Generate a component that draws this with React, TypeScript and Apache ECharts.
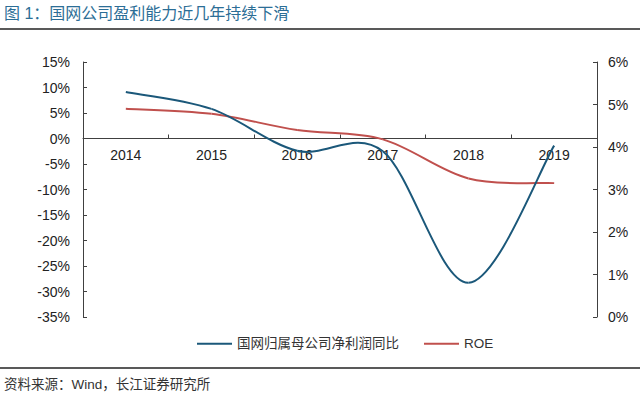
import React, { useEffect, useRef } from "react";
import * as echarts from "echarts";

const years = ["2014", "2015", "2016", "2017", "2018", "2019"];
const profitYoY = [9.1, 5.8, -2.4, -2.5, -28.3, -1.4];
const roe = [4.9, 4.78, 4.4, 4.18, 3.26, 3.15];
const leftTicks = { min: -35, max: 15, interval: 5 };
const rightTicks = { min: 0, max: 6, interval: 1 };
const titleText = "图 1：国网公司盈利能力近几年持续下滑";
const sourceText = "资料来源：Wind，长江证券研究所";
const seriesNames = ["国网归属母公司净利润同比", "ROE"];

const FONT = "'Liberation Sans', Arial, 'Noto Sans CJK SC', sans-serif";
const GRID = { left: 83, right: 43, top: 62, bottom: 81 };
const CHART_H = 398;

// Excel-like smoothed segment (Catmull-Rom converted to cubic Bezier) between data points
function makeRenderItem(values: number[], color: string) {
  return (params: any, api: any) => {
    const i = params.dataIndex;
    const n = values.length;
    if (i >= n - 1) return { type: "group", children: [] };
    const pt = (k: number) => {
      const kk = Math.max(0, Math.min(n - 1, k));
      return api.coord([kk, values[kk]]);
    };
    const p0 = pt(i - 1);
    const p1 = pt(i);
    const p2 = pt(i + 1);
    const p3 = pt(i + 2);
    return {
      type: "bezierCurve",
      shape: {
        x1: p1[0],
        y1: p1[1],
        cpx1: p1[0] + (p2[0] - p0[0]) / 6,
        cpy1: p1[1] + (p2[1] - p0[1]) / 6,
        cpx2: p2[0] - (p3[0] - p1[0]) / 6,
        cpy2: p2[1] - (p3[1] - p1[1]) / 6,
        x2: p2[0],
        y2: p2[1],
      },
      style: { stroke: color, lineWidth: 2, fill: "none" },
      silent: true,
    };
  };
}

export default function App() {
  const ref = useRef<HTMLDivElement>(null);
  useEffect(() => {
    if (!ref.current) return;
    const chart = echarts.init(ref.current, null, { renderer: "svg" });
    const axisLine = { show: true, lineStyle: { color: "#404040", width: 1 } };
    const axisTick = { show: true, inside: true, length: 4, lineStyle: { color: "#404040" } };
    const blue = "#1b587a";
    const red = "#c0504d";
    // place the category axis at the left axis' zero value
    const gridH = CHART_H - GRID.top - GRID.bottom;
    const zeroOffset = -gridH * (0 - leftTicks.min) / (leftTicks.max - leftTicks.min);
    chart.setOption({
      animation: false,
      backgroundColor: "#ffffff",
      textStyle: { fontFamily: FONT },
      grid: { ...GRID, containLabel: false },
      legend: {
        top: 332,
        left: 192,
        itemWidth: 35,
        itemHeight: 10,
        itemGap: 25,
        icon: "path://M0,4 L35,4 L35,6 L0,6 Z",
        textStyle: { fontSize: 13.5, color: "#333", fontFamily: FONT, padding: [0, 0, 0, 0] },
        data: seriesNames,
      },
      xAxis: {
        type: "category",
        data: years,
        boundaryGap: true,
        position: "bottom",
        offset: zeroOffset,
        axisLine: { ...axisLine, onZero: false },
        axisTick,
        axisLabel: { fontSize: 14, color: "#222", margin: 9 },
        splitLine: { show: false },
      },
      yAxis: [
        {
          type: "value",
          ...leftTicks,
          position: "left",
          axisLine,
          axisTick,
          axisLabel: { fontSize: 14, color: "#222", margin: 13, formatter: "{value}%" },
          splitLine: { show: false },
        },
        {
          type: "value",
          ...rightTicks,
          position: "right",
          axisLine,
          axisTick,
          axisLabel: { fontSize: 14, color: "#222", margin: 11, formatter: "{value}%" },
          splitLine: { show: false },
        },
      ],
      series: [
        {
          name: seriesNames[0],
          type: "custom",
          yAxisIndex: 0,
          data: profitYoY.map((v, i) => [i, v]),
          encode: { x: 0, y: 1 },
          renderItem: makeRenderItem(profitYoY, blue),
          itemStyle: { color: blue },
          z: 3,
        },
        {
          name: seriesNames[1],
          type: "custom",
          yAxisIndex: 1,
          data: roe.map((v, i) => [i, v]),
          encode: { x: 0, y: 1 },
          renderItem: makeRenderItem(roe, red),
          itemStyle: { color: red },
          z: 2,
        },
      ],
      graphic: [
        {
          type: "text",
          left: 4,
          top: 5,
          style: { text: titleText, fontSize: 16, fill: "#2c6e96", fontFamily: FONT },
        },
        {
          type: "line",
          shape: { x1: 0, y1: 29, x2: 640, y2: 29 },
          style: { stroke: "#222", lineWidth: 1.5 },
        },
        {
          type: "line",
          shape: { x1: 0, y1: 368, x2: 640, y2: 368 },
          style: { stroke: "#222", lineWidth: 1.5 },
        },
        {
          type: "text",
          left: 4,
          top: 378,
          style: { text: sourceText, fontSize: 13.5, fill: "#333", fontFamily: FONT },
        },
      ],
    });
    return () => chart.dispose();
  }, []);
  return <div ref={ref} style={{ width: 640, height: 398, position: "absolute", left: 0, top: 0 }} />;
}
